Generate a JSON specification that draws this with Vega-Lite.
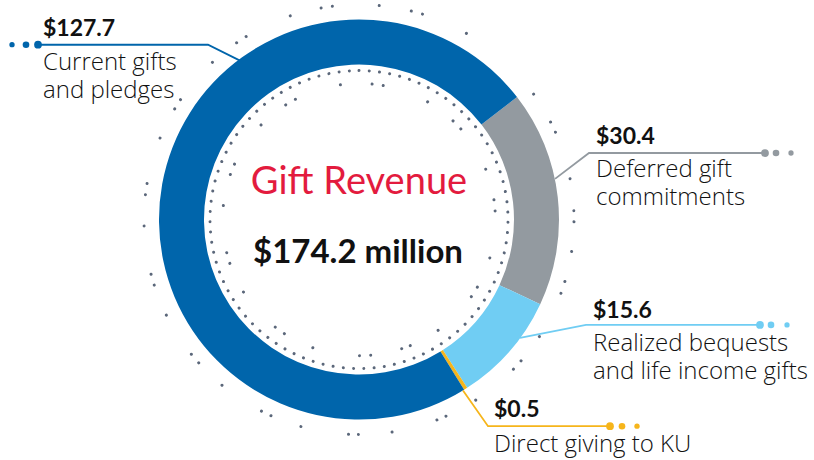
{
  "$schema": "https://vega.github.io/schema/vega-lite/v6.json",
  "width": 814,
  "height": 460,
  "autosize": {"type": "fit", "contains": "padding"},
  "padding": 0,
  "background": "white",
  "config": {"view": {"stroke": null}},
  "datasets": {
    "segments": [
      {"category": "Deferred gift commitments", "value": 30.4, "order": 1},
      {"category": "Realized bequests and life income gifts", "value": 15.6, "order": 2},
      {"category": "Direct giving to KU", "value": 0.5, "order": 3},
      {"category": "Current gifts and pledges", "value": 127.7, "order": 4}
    ],
    "leaders": [
      {"category": "Current gifts and pledges", "seq": 1, "x": 38, "y": 42},
      {"category": "Current gifts and pledges", "seq": 2, "x": 208, "y": 42},
      {"category": "Current gifts and pledges", "seq": 3, "x": 240, "y": 58},
      {"category": "Deferred gift commitments", "seq": 1, "x": 555, "y": 177},
      {"category": "Deferred gift commitments", "seq": 2, "x": 589, "y": 151},
      {"category": "Deferred gift commitments", "seq": 3, "x": 765, "y": 151},
      {"category": "Realized bequests and life income gifts", "seq": 1, "x": 520, "y": 337},
      {"category": "Realized bequests and life income gifts", "seq": 2, "x": 586, "y": 324},
      {"category": "Realized bequests and life income gifts", "seq": 3, "x": 760, "y": 324},
      {"category": "Direct giving to KU", "seq": 1, "x": 463, "y": 390},
      {"category": "Direct giving to KU", "seq": 2, "x": 488, "y": 426},
      {"category": "Direct giving to KU", "seq": 3, "x": 610, "y": 426}
    ],
    "dots": [
      {"category": "Current gifts and pledges", "kind": "big", "x": 38, "y": 42},
      {"category": "Current gifts and pledges", "kind": "medium", "x": 26, "y": 42},
      {"category": "Current gifts and pledges", "kind": "small", "x": 12, "y": 42},
      {"category": "Deferred gift commitments", "kind": "big", "x": 765, "y": 151},
      {"category": "Deferred gift commitments", "kind": "medium", "x": 776, "y": 151},
      {"category": "Deferred gift commitments", "kind": "small", "x": 791, "y": 151},
      {"category": "Realized bequests and life income gifts", "kind": "big", "x": 760, "y": 324},
      {"category": "Realized bequests and life income gifts", "kind": "medium", "x": 771, "y": 324},
      {"category": "Realized bequests and life income gifts", "kind": "small", "x": 787, "y": 324},
      {"category": "Direct giving to KU", "kind": "big", "x": 610, "y": 426},
      {"category": "Direct giving to KU", "kind": "medium", "x": 622, "y": 426},
      {"category": "Direct giving to KU", "kind": "small", "x": 637, "y": 426}
    ],
    "labels": [
      {"amount": "$127.7", "desc": "Current gifts\nand pledges", "x": 43, "ya": 33, "yd": 67},
      {"amount": "$30.4", "desc": "Deferred gift\ncommitments", "x": 596, "ya": 142, "yd": 175},
      {"amount": "$15.6", "desc": "Realized bequests\nand life income gifts", "x": 593, "ya": 317, "yd": 350},
      {"amount": "$0.5", "desc": "Direct giving to KU", "x": 494, "ya": 417, "yd": 452}
    ],
    "center": [
      {"title": "Gift Revenue", "total": "$174.2 million"}
    ]
  },
  "layer": [
    {
      "data": {"values": [{}]},
      "mark": {"type": "arc", "theta": 0, "theta2": 6.2832, "outerRadius": 149, "innerRadius": 0, "fill": "transparent", "stroke": "#5b677a", "strokeWidth": 3, "strokeCap": "round", "strokeDash": [0.01, 10.28]},
      "encoding": {
        "x": {"datum": 359, "type": "quantitative", "scale": {"domain": [0, 814], "nice": false, "zero": false}, "axis": null},
        "y": {"datum": 218, "type": "quantitative", "scale": {"domain": [0, 460], "nice": false, "zero": false, "reverse": true}, "axis": null}
      }
    },
    {
      "data": {"values": [{}]},
      "mark": {"type": "arc", "theta": 2.822, "theta2": 9.1055, "outerRadius": 136, "innerRadius": 0, "fill": "transparent", "stroke": "#5b677a", "strokeWidth": 3, "strokeCap": "round", "strokeDash": [0.01, 31.8, 0.01, 11.2, 0.01, 47.5]},
      "encoding": {
        "x": {"datum": 359, "type": "quantitative", "scale": {"domain": [0, 814], "nice": false, "zero": false}, "axis": null},
        "y": {"datum": 218, "type": "quantitative", "scale": {"domain": [0, 460], "nice": false, "zero": false, "reverse": true}, "axis": null}
      }
    },
    {
      "data": {"values": [{}]},
      "mark": {"type": "arc", "theta": 0.0942, "theta2": 6.3776, "outerRadius": 215, "innerRadius": 0, "fill": "transparent", "stroke": "#5b677a", "strokeWidth": 3, "strokeCap": "round", "strokeDash": [0.01, 32.6, 0.01, 11.6, 0.01, 48.0, 0.01, 91.2, 0.01, 32.6, 0.01, 11.3, 0.01, 48.8, 0.01, 32.3, 0.01, 10.9, 0.01, 30.0, 0.01, 30.8, 0.01, 12.4, 0.01, 48.4, 0.01, 30.4, 0.01, 11.3, 0.01, 48.8, 0.01, 33.8, 0.01, 9.8, 0.01, 46.5, 0.01, 33.8, 0.01, 9.8, 0.01, 48.4, 0.01, 31.9, 0.01, 10.5, 0.01, 47.3, 0.01, 32.3, 0.01, 11.3, 0.01, 46.5, 0.01, 32.3, 0.01, 11.3, 0.01, 48.8, 0.01, 31.5, 0.01, 11.3, 0.01, 47.3, 0.01, 32.6, 0.01, 10.9, 0.01, 49.2, 0.01, 31.1, 0.01, 11.3, 0.01, 48.8, 0.01, 31.9, 0.01, 11.3, 0.01, 48.4]},
      "encoding": {
        "x": {"datum": 359, "type": "quantitative", "scale": {"domain": [0, 814], "nice": false, "zero": false}, "axis": null},
        "y": {"datum": 218, "type": "quantitative", "scale": {"domain": [0, 460], "nice": false, "zero": false, "reverse": true}, "axis": null}
      }
    },
    {
      "data": {"name": "segments"},
      "mark": {"type": "arc", "outerRadius": 200, "innerRadius": 155},
      "encoding": {
        "x": {"datum": 359, "type": "quantitative", "scale": {"domain": [0, 814], "nice": false, "zero": false}, "axis": null},
        "y": {"datum": 218, "type": "quantitative", "scale": {"domain": [0, 460], "nice": false, "zero": false, "reverse": true}, "axis": null},
        "theta": {"field": "value", "type": "quantitative", "stack": true, "scale": {"range": [0.911, 7.194]}},
        "order": {"field": "order", "type": "quantitative"},
        "color": {
          "field": "category", "type": "nominal", "legend": null,
          "scale": {
            "domain": ["Current gifts and pledges", "Deferred gift commitments", "Realized bequests and life income gifts", "Direct giving to KU"],
            "range": ["#0065ab", "#939aa0", "#70cdf3", "#f6b51b"]
          }
        }
      }
    },
    {
      "data": {"name": "leaders"},
      "mark": {"type": "line", "strokeWidth": 1.8, "interpolate": "linear"},
      "encoding": {
        "x": {"field": "x", "type": "quantitative", "scale": {"domain": [0, 814], "nice": false, "zero": false}, "axis": null},
        "y": {"field": "y", "type": "quantitative", "scale": {"domain": [0, 460], "nice": false, "zero": false, "reverse": true}, "axis": null},
        "order": {"field": "seq", "type": "quantitative"},
        "detail": {"field": "category", "type": "nominal"},
        "color": {"field": "category", "type": "nominal", "legend": null}
      }
    },
    {
      "data": {"name": "dots"},
      "mark": {"type": "circle", "opacity": 1},
      "encoding": {
        "x": {"field": "x", "type": "quantitative", "scale": {"domain": [0, 814], "nice": false, "zero": false}, "axis": null},
        "y": {"field": "y", "type": "quantitative", "scale": {"domain": [0, 460], "nice": false, "zero": false, "reverse": true}, "axis": null},
        "size": {"field": "kind", "type": "nominal", "legend": null, "scale": {"domain": ["big", "medium", "small"], "range": [60, 28, 12]}},
        "color": {"field": "category", "type": "nominal", "legend": null}
      }
    },
    {
      "data": {"name": "labels"},
      "mark": {"type": "text", "align": "left", "baseline": "alphabetic", "font": "Lato", "fontWeight": "bold", "fontSize": 23, "color": "#111111"},
      "encoding": {
        "x": {"field": "x", "type": "quantitative", "scale": {"domain": [0, 814], "nice": false, "zero": false}, "axis": null},
        "y": {"field": "ya", "type": "quantitative", "scale": {"domain": [0, 460], "nice": false, "zero": false, "reverse": true}, "axis": null},
        "text": {"field": "amount", "type": "nominal"}
      }
    },
    {
      "data": {"name": "labels"},
      "mark": {"type": "text", "align": "left", "baseline": "alphabetic", "font": "Open Sans", "fontWeight": 300, "fontSize": 24, "lineHeight": 28.5, "lineBreak": "\n", "color": "#111111"},
      "encoding": {
        "x": {"field": "x", "type": "quantitative", "scale": {"domain": [0, 814], "nice": false, "zero": false}, "axis": null},
        "y": {"field": "yd", "type": "quantitative", "scale": {"domain": [0, 460], "nice": false, "zero": false, "reverse": true}, "axis": null},
        "text": {"field": "desc", "type": "nominal"}
      }
    },
    {
      "data": {"name": "center"},
      "mark": {"type": "text", "align": "center", "baseline": "alphabetic", "font": "Lato", "fontWeight": "normal", "fontSize": 38, "color": "#e31b3e"},
      "encoding": {
        "x": {"datum": 359, "type": "quantitative", "scale": {"domain": [0, 814], "nice": false, "zero": false}, "axis": null},
        "y": {"datum": 192, "type": "quantitative", "scale": {"domain": [0, 460], "nice": false, "zero": false, "reverse": true}, "axis": null},
        "text": {"field": "title", "type": "nominal"}
      }
    },
    {
      "data": {"name": "center"},
      "mark": {"type": "text", "align": "center", "baseline": "alphabetic", "font": "Lato", "fontWeight": "bold", "fontSize": 33, "color": "#111111"},
      "encoding": {
        "x": {"datum": 358, "type": "quantitative", "scale": {"domain": [0, 814], "nice": false, "zero": false}, "axis": null},
        "y": {"datum": 262, "type": "quantitative", "scale": {"domain": [0, 460], "nice": false, "zero": false, "reverse": true}, "axis": null},
        "text": {"field": "total", "type": "nominal"}
      }
    }
  ]
}
